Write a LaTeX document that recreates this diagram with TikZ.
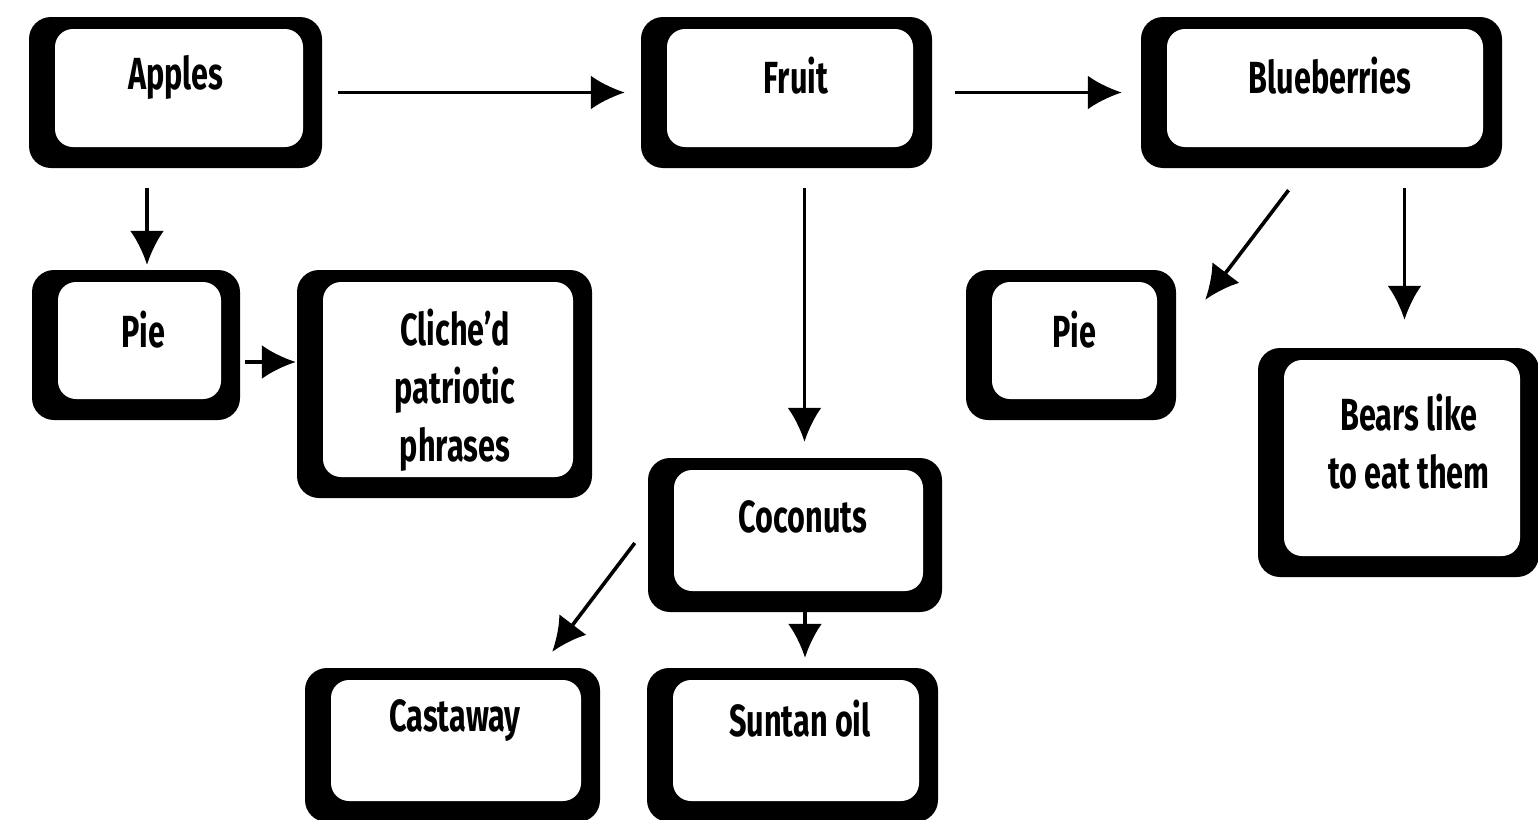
\documentclass[tikz,border=0pt]{standalone}
\usepackage{fontspec}
\setmainfont{Fira Sans}[FakeStretch=0.68]
\usetikzlibrary{arrows.meta}
\begin{document}
\begin{tikzpicture}[x=1pt,y=-1pt,
  bx/.style={fill=black, rounded corners=22pt, inner sep=0pt,
    path picture={\fill[white, rounded corners=18pt]
      ([xshift=26pt,yshift=21pt]path picture bounding box.south west) rectangle
      ([xshift=-19pt,yshift=-12pt]path picture bounding box.north east);}},
  lbl/.style={font=\fontsize{45}{58}\selectfont\bfseries, align=center, inner sep=0pt},
  arr/.style={line width=3.6pt, -{Latex[length=34pt,width=34pt]}}]
\clip (0,0) rectangle (1538,819);
\useasboundingbox (0,0) rectangle (1538,819);
% boxes (outer extents)
\node[bx, minimum width=293pt, minimum height=151pt] (apples) at (175.5,92.5) {};
\node[bx, minimum width=291pt, minimum height=151pt] (fruit) at (786.5,92.5) {};
\node[bx, minimum width=361pt, minimum height=151pt] (blue) at (1321.5,92.5) {};
\node[bx, minimum width=208pt, minimum height=150pt] (pieL) at (136,345) {};
\node[bx, minimum width=295pt, minimum height=228pt] (cliche) at (444.5,384) {};
\node[bx, minimum width=210pt, minimum height=150pt] (pieR) at (1071,345) {};
\node[bx, minimum width=281pt, minimum height=229pt] (bears) at (1398.5,462.5) {};
\node[bx, minimum width=294pt, minimum height=154pt] (coco) at (795,535) {};
\node[bx, minimum width=295pt, minimum height=154pt] (cast) at (452.5,745) {};
\node[bx, minimum width=291pt, minimum height=154pt] (sun) at (792.5,745) {};
% labels
\node[lbl] (applesT) at (176,77) {Apples};
\node[lbl] (fruitT) at (796,76) {Fruit};
\node[lbl] (blueT) at (1330,76) {Blueberries};
\node[lbl] (pieLT) at (143,330) {Pie};
\node[lbl] (clicheT) at (455,390) {Cliche’d\\patriotic\\phrases};
\node[lbl] (pieRT) at (1074,330) {Pie};
\node[lbl] (bearsT) at (1409,442) {Bears like\\to eat them};
\node[lbl] (cocoT) at (803,517) {Coconuts};
\node[lbl] (castT) at (455,721) {Castaway};
\node[lbl] (sunT) at (800,719) {Suntan oil};
% connectors
\draw[arr, shorten <=16pt, shorten >=16pt] (apples.east) -- (fruit.west);
\draw[arr, shorten <=23pt, shorten >=19pt] (fruit.east) -- (blue.west);
\draw[arr, shorten <=20pt, shorten >=5pt] ([xshift=11pt]pieL.north |- apples.south) -- ([xshift=11pt]pieL.north);
\draw[arr, shorten <=5pt, shorten >=1pt] ([yshift=-17pt]pieL.east) -- ([yshift=-17pt]pieL.east -| cliche.west);
\draw[arr, shorten <=20pt, shorten >=16pt] ([xshift=18pt]fruit.south) -- ([xshift=18pt]fruit.south |- coco.north);
\draw[arr] ([xshift=-33pt,yshift=-22pt]blue.south) -- ([xshift=29pt,yshift=-30pt]pieR.north east);
\draw[arr, shorten <=20pt, shorten >=28pt] ([xshift=83pt]blue.south) -- ([xshift=83pt]blue.south |- bears.north);
\draw[arr] ([xshift=-13pt,yshift=-8pt]coco.west) -- ([xshift=-48pt,yshift=16pt]cast.north east);
\draw[arr, shorten >=10pt] ([xshift=10pt]coco.south) -- ([xshift=10pt]coco.south |- sun.north);
\end{tikzpicture}
\end{document}
